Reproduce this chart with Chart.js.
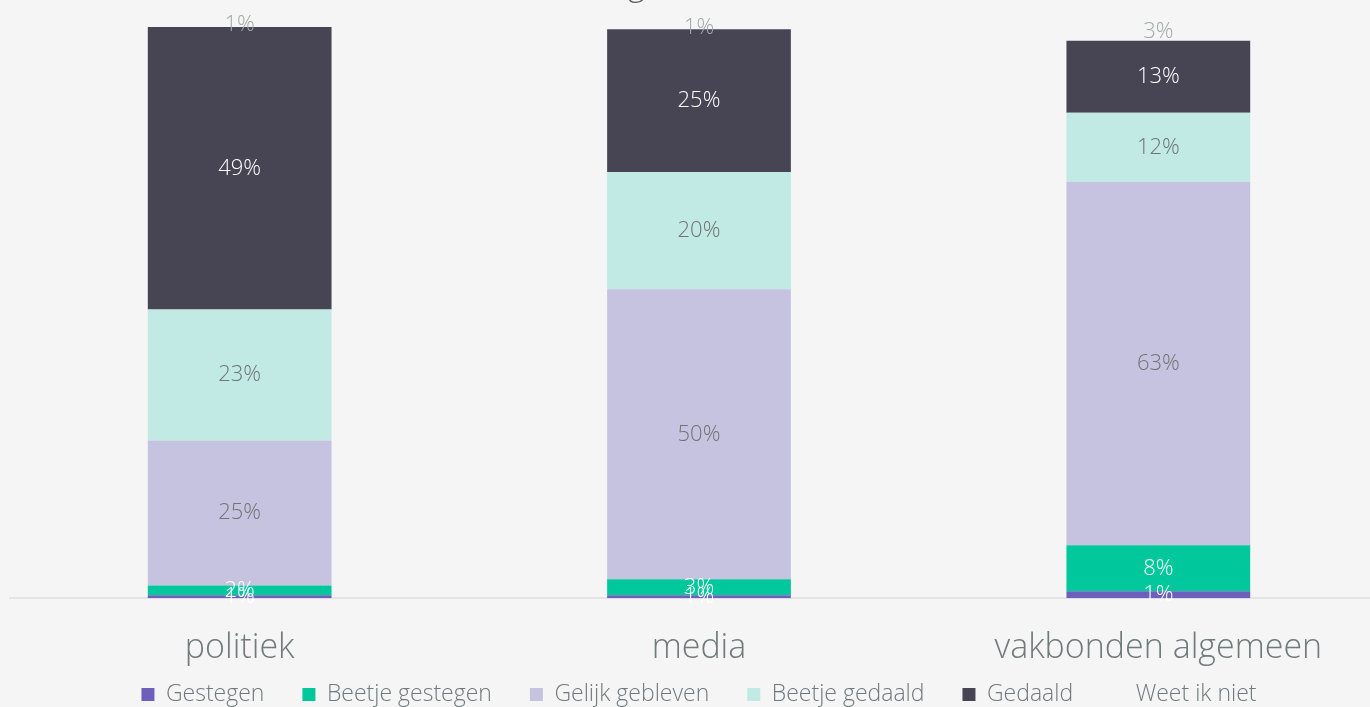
<!DOCTYPE html>
<html>
<head>
<meta charset="utf-8">
<script src="https://cdn.jsdelivr.net/npm/chart.js@4"></script>
<style>
  html, body { margin: 0; padding: 0; background: #f5f5f5; overflow: hidden; }
  #wrap { width: 1388px; height: 716px; }
</style>
</head>
<body>
<div id="wrap"><canvas id="vertrouwenChart"></canvas></div>
<script>
// Script for index.html (chart)
var groepen = ["politiek", "media", "vakbonden algemeen"];

var gestegen = [0.5, 0.5, 1.2];
var beetjeGestegen = [1.7, 2.8, 8.0];
var gelijkGebleven = [25.2, 50.4, 63.2];
var beetjeGedaald = [22.8, 20.4, 12.0];
var gedaald = [49.1, 24.8, 12.5];
var weetIkNiet = [0.7, 0.7, 3.1];

var titel = "Ontwikkeling vertrouwen";
var tekstKleur = "#707a7a";
var fontNaam = "'Open Sans', Lato, sans-serif";

// draws the percentage in the middle of every segment
var segmentLabels = {
    id: "segmentLabels",
    afterDatasetsDraw: function (chart) {
        var ctx = chart.ctx;
        ctx.save();
        ctx.font = "300 22px " + fontNaam;
        ctx.textAlign = "center";
        ctx.textBaseline = "middle";
        chart.data.datasets.forEach(function (ds, i) {
            var meta = chart.getDatasetMeta(i);
            meta.data.forEach(function (bar, j) {
                var mid = (bar.y + bar.base) / 2;
                ctx.fillStyle = ds.labelColor;
                ctx.fillText(Math.round(ds.data[j]) + "%", bar.x, mid);
            });
        });
        ctx.restore();
    }
};

// title sits mostly above the visible page, only the descenders show
var halfTitel = {
    id: "halfTitel",
    afterDraw: function (chart) {
        var ctx = chart.ctx;
        ctx.save();
        ctx.font = "300 32px " + fontNaam;
        ctx.fillStyle = "#595959";
        ctx.textAlign = "center";
        ctx.textBaseline = "alphabetic";
        ctx.fillText(titel, 640, -4);
        ctx.restore();
    }
};

// x axis box was made shorter so the legend sits closer; let its labels draw past it
var labelRuimte = {
    id: "labelRuimte",
    afterLayout: function (chart) {
        chart.scales.x.bottom = chart.height;
    }
};

new Chart("vertrouwenChart", {
    type: "bar",
    plugins: [segmentLabels, halfTitel, labelRuimte],
    data: {
        labels: groepen,
        datasets: [
            { label: "Gestegen", data: gestegen, backgroundColor: "#6f5fbd", labelColor: "#ffffff" },
            { label: "Beetje gestegen", data: beetjeGestegen, backgroundColor: "#00c89c", labelColor: "#ffffff" },
            { label: "Gelijk gebleven", data: gelijkGebleven, backgroundColor: "#c5c3e0", labelColor: "#6f7474" },
            { label: "Beetje gedaald", data: beetjeGedaald, backgroundColor: "#c0eae3", labelColor: "#6f7474" },
            { label: "Gedaald", data: gedaald, backgroundColor: "#474554", labelColor: "#ffffff" },
            { label: "Weet ik niet", data: weetIkNiet, backgroundColor: "rgba(0,0,0,0)", labelColor: "#a3a8a8" }
        ]
    },
    options: {
        responsive: true,
        maintainAspectRatio: false,
        animation: false,
        layout: { padding: { top: 23, left: 10, right: 0, bottom: 0 } },
        datasets: {
            bar: { barPercentage: 0.4, categoryPercentage: 1.0, borderWidth: 0 }
        },
        plugins: {
            title: { display: false },
            tooltip: { enabled: false },
            legend: {
                display: true,
                position: "bottom",
                align: "center",
                labels: {
                    boxWidth: 13,
                    boxHeight: 13,
                    padding: 38,
                    color: tekstKleur,
                    font: { family: fontNaam, size: 23, weight: "300" }
                }
            }
        },
        scales: {
            x: {
                stacked: true,
                grid: { display: false, drawTicks: false },
                border: { display: true, color: "#e4e4e4", width: 2 },
                ticks: {
                    padding: 30,
                    color: tekstKleur,
                    font: { family: fontNaam, size: 34, weight: "300" }
                },
                afterFit: function (scale) {
                    scale.height -= 54;
                }
            },
            y: {
                stacked: true,
                display: false,
                min: 0,
                max: 100
            }
        }
    }
});
</script>
</body>
</html>
